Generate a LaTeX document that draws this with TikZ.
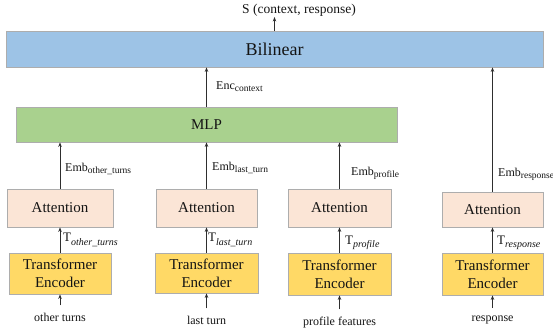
\documentclass[tikz,border=0pt]{standalone}
\usepackage{fontspec}
\setmainfont{LiberationSerif}[Extension=.ttf, UprightFont=*-Regular, ItalicFont=*-Italic, BoldFont=*-Bold, BoldItalicFont=*-BoldItalic]
\usetikzlibrary{arrows.meta}

\definecolor{bilblue}{HTML}{9DC3E6}
\definecolor{mlpgreen}{HTML}{A9D18E}
\definecolor{attpink}{HTML}{FBE5D6}
\definecolor{encyellow}{HTML}{FFD966}
\definecolor{boxline}{HTML}{ADADAD}
\definecolor{arrowline}{HTML}{2E2E2E}
\definecolor{txt}{HTML}{141414}

\newcommand{\embsub}[1]{\raisebox{-2pt}{\fontsize{9.5}{10}\selectfont #1}}
\newcommand{\tsub}[1]{\raisebox{-3pt}{\fontsize{10}{11}\selectfont\itshape #1}}

\tikzset{
  box/.style={draw=boxline, line width=0.8pt, inner sep=0pt, text=txt, align=center},
  bilbox/.style={box, fill=bilblue, font=\fontsize{18}{20}\selectfont},
  mlpbox/.style={box, fill=mlpgreen, font=\fontsize{15}{17}\selectfont},
  attbox/.style={box, fill=attpink, font=\fontsize{15}{17}\selectfont},
  encbox/.style={box, fill=encyellow, font=\fontsize{15}{18}\selectfont},
  lbl/.style={inner sep=0pt, text=txt, anchor=base west, font=\fontsize{12}{14}\selectfont},
  tlbl/.style={inner sep=0pt, text=txt, anchor=base west, font=\fontsize{13}{15}\selectfont},
  inlbl/.style={inner sep=0pt, text=txt, anchor=base, font=\fontsize{12}{14}\selectfont},
  arr/.style={draw=arrowline, line width=0.8pt, -{Stealth[length=4.5pt,width=3.5pt]}}
}

\begin{document}
\begin{tikzpicture}[x=1pt, y=-1pt]
  \useasboundingbox (0,0) rectangle (553,336);

  % output score
  \node[inlbl, font=\fontsize{13.5}{15}\selectfont] (score) at (299,14) {S (context, response)};

  % top-level blocks
  \node[bilbox, minimum width=537pt, minimum height=36pt] (bil) at (274.5,49) {Bilinear};
  \node[mlpbox, minimum width=381pt, minimum height=35pt] (mlp) at (206.5,124.5) {MLP};

  % attention layers
  \node[attbox, minimum width=106pt, minimum height=38pt] (att1) at (60,208) {Attention};
  \node[attbox, minimum width=101pt, minimum height=38pt] (att2) at (206.5,208) {Attention};
  \node[attbox, minimum width=103pt, minimum height=38pt] (att3) at (339.5,208) {Attention};
  \node[attbox, minimum width=101pt, minimum height=35pt] (att4) at (492.5,209.5) {Attention};

  % transformer encoders
  \node[encbox, minimum width=102pt, minimum height=41pt] (te1) at (60,273.5) {Transformer\\Encoder};
  \node[encbox, minimum width=103pt, minimum height=40pt] (te2) at (206.5,273) {Transformer\\Encoder};
  \node[encbox, minimum width=103pt, minimum height=42pt] (te3) at (339.5,274) {Transformer\\Encoder};
  \node[encbox, minimum width=101pt, minimum height=42pt] (te4) at (492.5,274) {Transformer\\Encoder};

  % inputs
  \node[inlbl] (in1) at (60,321) {other turns};
  \node[inlbl] (in2) at (206.5,324) {last turn};
  \node[inlbl] (in3) at (339.5,325) {profile features};
  \node[inlbl] (in4) at (492.5,321) {response};

  % edge labels
  \node[lbl] (enc) at (216,90) {Enc\embsub{context}};
  \node[lbl] (emb1) at (65,172) {Emb\embsub{other\_turns}};
  \node[lbl] (emb2) at (212,171) {Emb\embsub{last\_turn}};
  \node[lbl] (emb3) at (351,176) {Emb\embsub{profile}};
  \node[lbl] (emb4) at (498,177) {Emb\embsub{response}};
  \node[tlbl] (t1) at (63,242) {T\tsub{other\_turns}};
  \node[tlbl] (t2) at (208,242) {T\tsub{last\_turn}};
  \node[tlbl] (t3) at (345,244) {T\tsub{profile}};
  \node[tlbl] (t4) at (497,244) {T\tsub{response}};

  % connectors
  \foreach \i in {1,2,3,4} {
    \draw[arr, shorten <=7pt] (in\i) -- (te\i);
    \draw[arr] (te\i) -- (att\i);
  }
  \foreach \i in {1,2,3} {
    \draw[arr] (att\i.north) -- (att\i.north |- mlp.south);
  }
  \draw[arr] (att4.north) -- (att4.north |- bil.south);
  \draw[arr] (mlp.north) -- (mlp.north |- bil.south);
  \draw[arr] (bil.north) -- (bil.north |- score.south);
\end{tikzpicture}
\end{document}
